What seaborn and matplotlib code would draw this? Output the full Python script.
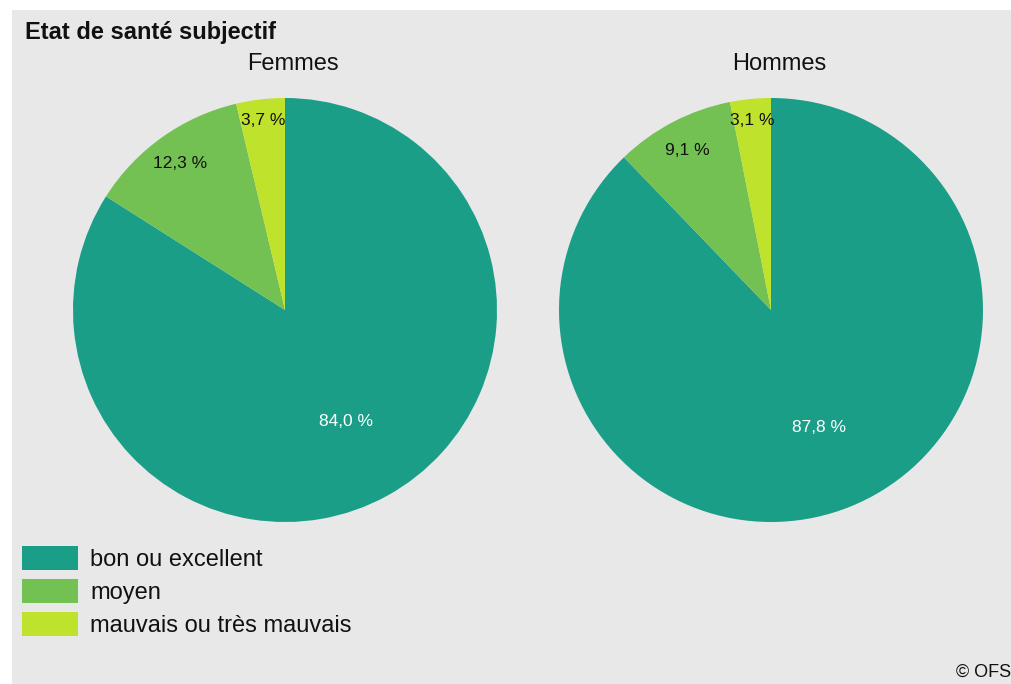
import numpy as np
import matplotlib
matplotlib.use("Agg")
import matplotlib.pyplot as plt
import seaborn as sns
from matplotlib.patches import Rectangle, Patch

sns.set_style("white")
plt.rcParams['font.family'] = ['Liberation Sans', 'DejaVu Sans']

title = "Etat de santé subjectif"
categories = ["bon ou excellent", "moyen", "mauvais ou très mauvais"]
groups = ["Femmes", "Hommes"]
femmes = [84.0, 12.3, 3.7]
hommes = [87.8, 9.1, 3.1]
source = "© OFS"

colors = ["#1b9e88", "#73c152", "#bfe32c"]
text_colors = ["white", "#111111", "#111111"]

W, H = 1012, 684
fig = plt.figure(figsize=(W / 100, H / 100), dpi=100, facecolor="white")
fig.patches.append(Rectangle((12 / W, 0), 1 - 12 / W, 1 - 10 / H,
                             transform=fig.transFigure, facecolor="#e8e8e8",
                             edgecolor="none", zorder=-10))

centers = [(285, 310), (771, 310)]
R = 212
for (cx, cy), name, vals in zip(centers, groups, [femmes, hommes]):
    ax = fig.add_axes([(cx - R) / W, (H - cy - R) / H, 2 * R / W, 2 * R / H])
    ax.set_facecolor("none")
    wedges, texts, autotexts = ax.pie(
        vals, colors=colors, startangle=90, counterclock=False,
        autopct=lambda p: f"{p:.1f} %".replace(".", ","),
        pctdistance=0.6, wedgeprops=dict(linewidth=0),
        textprops=dict(fontsize=12.5))
    for i, (w, t) in enumerate(zip(wedges, autotexts)):
        t.set_color(text_colors[i])
        if i > 0:
            theta = np.deg2rad((w.theta1 + w.theta2) / 2)
            d = 0.85 if i == 1 else 0.9
            t.set_position((d * np.cos(theta), d * np.sin(theta)))
    ax.set_xlim(-1, 1)
    ax.set_ylim(-1, 1)
    ax.set_aspect("equal")
    ax.axis("off")
    fig.text((cx + 8) / W, 1 - 64 / H, name, ha="center", va="center",
             fontsize=17, color="#111111")

fig.text(25 / W, 1 - 32 / H, title, ha="left", va="center",
         fontsize=17, fontweight="bold", color="#111111")

handles = [Patch(facecolor=c, edgecolor="none") for c in colors]
leg = fig.legend(handles, categories, loc="upper left",
                 bbox_to_anchor=(13 / W, 1 - 537 / H), frameon=False,
                 fontsize=17, handlelength=2.37, handleheight=1.18,
                 labelspacing=0.33, handletextpad=0.5, borderaxespad=0,
                 labelcolor="#111111")

fig.text(956 / W, 1 - 672 / H, source, ha="left", va="center",
         fontsize=13, color="#111111")

fig.savefig("out.png", dpi=100, facecolor="white")
